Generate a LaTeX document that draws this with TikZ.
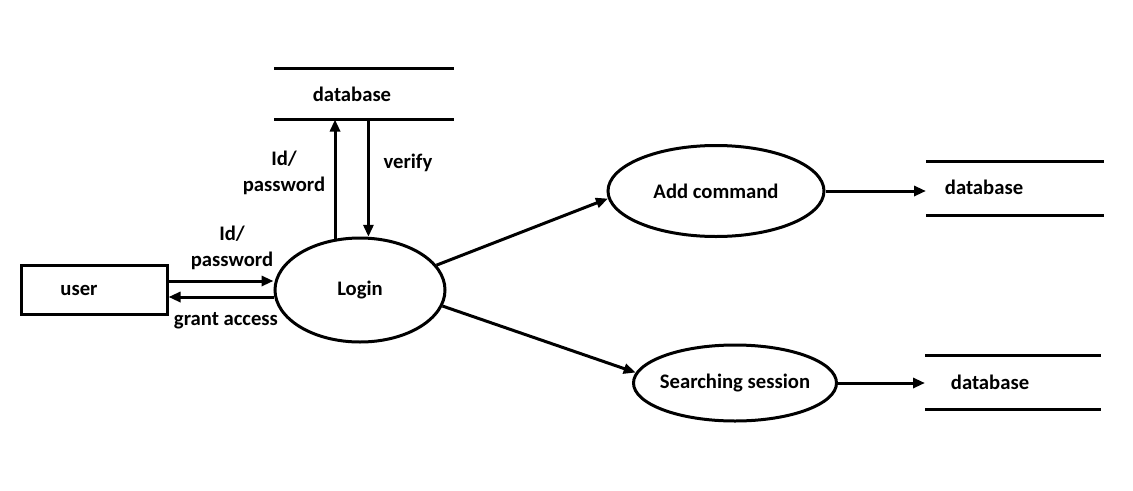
\documentclass[tikz,border=0pt]{standalone}
\usepackage{fontspec}
\setmainfont{Carlito}
\usetikzlibrary{arrows.meta,shapes.geometric}

\begin{document}
\begin{tikzpicture}[x=0.75pt, y=-0.75pt, line width=2.25pt,
  font=\fontsize{15.5}{19}\selectfont\bfseries,
  flow/.style={-{Triangle[length=9pt,width=7.5pt]}},
  proc/.style={draw, ellipse, inner sep=0pt},
  store/.style={inner sep=0pt}]

  \def\u{0.75pt};
  \useasboundingbox (0,0) rectangle (1133,490);

	%draw user and processes
 \node[draw, minimum width=146*\u, minimum height=49*\u, inner sep=0pt] (user) at (94,290) {};
 \node (usertxt) at (79,290) {user};
 \node[proc, minimum width=170*\u, minimum height=104*\u] (login) at (360,290) {Login};
 \node[proc, minimum width=216*\u, minimum height=91*\u] (addcmd) at (716,191) {Add command};
 \node[proc, inner xsep=-20pt, minimum width=203*\u, minimum height=76*\u] (search) at (735,383) {Searching session};

	%draw stores
    \foreach \name/\x/\y/\w/\h in { db1/364/94/177/48, db2/1015/188/175/51, db3/1013/382/173/51 }{
         \node[store, minimum width=\w*\u, minimum height=\h*\u] (\name) at (\x,\y) {};
         \draw (\name.north west) -- (\name.north east);
         \draw (\name.south west) -- (\name.south east);
    }
 \node (db1txt) at (352,94) {database};
 \node (db2txt) at (984,187) {database};
 \node (db3txt) at (990,382) {database};

	%flows
 \def\dy{6.75pt};
 \draw[flow] ([yshift=\dy]user.east) -- ([yshift=\dy]login.west);
 \draw[flow] ([yshift=-5.25pt]login.west) -- ([yshift=-5.25pt]user.east);
 \draw[flow] (login.116) -- (login.116 |- db1.south);
 \draw[flow] (db1.south -| login.81) -- (login.81);
 \draw[flow] (login.18) -- (addcmd.184);
 \draw[flow] (login.349) -- (search.174);
 \draw[flow] (addcmd.east) -- (addcmd.east -| db2.west);
 \draw[flow] (search.east) -- (search.east -| db3.west);

	%labels
 \node[align=center] (lblid) at (284,173) {Id/\\password};
 \node (lblverify) at (408,163) {verify};
 \node[align=center] (lbluser) at (232,248) {Id/\\password};
 \node (lblgrant) at (226,321) {grant access};

\end{tikzpicture}
\end{document}
